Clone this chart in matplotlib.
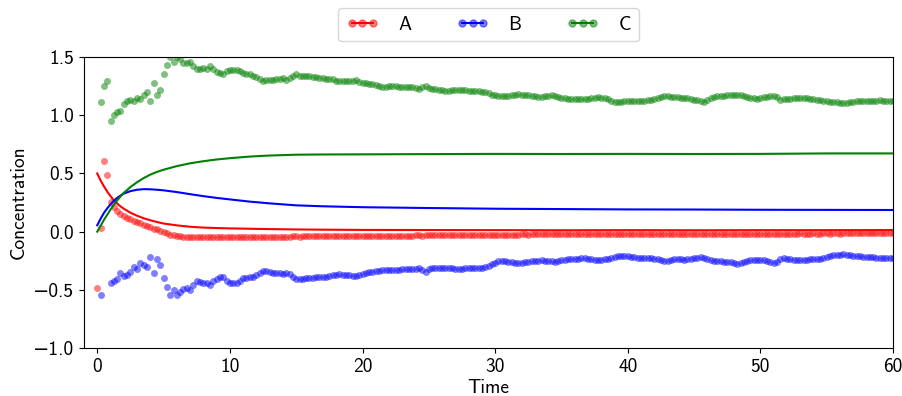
import numpy as np
import matplotlib
matplotlib.use('Agg')
import matplotlib.pyplot as plt
from matplotlib.lines import Line2D

plt.rcParams['font.family'] = ['cmss10', 'DejaVu Sans']
plt.rcParams['axes.unicode_minus'] = True
plt.rcParams['font.size'] = 14

# observed samples, one every 0.25 time units (20 per row)
t_obs = np.arange(241) * 0.25

A_obs = np.array("""
-0.48 0.03 0.61 0.49 0.257 0.214 0.18 0.151 0.134 0.117 0.105 0.094 0.082 0.071 0.059 0.048 0.037 0.025 0.02 0.008
-0.003 -0.015 -0.026 -0.032 -0.038 -0.041 -0.043 -0.044 -0.045 -0.045 -0.046 -0.046 -0.045 -0.046 -0.047 -0.046 -0.046 -0.045 -0.046 -0.046
-0.047 -0.046 -0.045 -0.045 -0.044 -0.044 -0.045 -0.044 -0.043 -0.043 -0.044 -0.043 -0.042 -0.043 -0.043 -0.044 -0.043 -0.042 -0.042 -0.041
-0.041 -0.042 -0.041 -0.04 -0.04 -0.041 -0.04 -0.039 -0.039 -0.04 -0.039 -0.038 -0.038 -0.039 -0.038 -0.037 -0.037 -0.038 -0.037 -0.036
-0.036 -0.037 -0.036 -0.035 -0.035 -0.036 -0.035 -0.034 -0.034 -0.035 -0.034 -0.034 -0.033 -0.033 -0.034 -0.033 -0.032 -0.032 -0.033 -0.032
-0.031 -0.031 -0.032 -0.031 -0.03 -0.03 -0.031 -0.03 -0.029 -0.029 -0.03 -0.029 -0.028 -0.028 -0.029 -0.028 -0.027 -0.027 -0.028 -0.027
-0.026 -0.026 -0.027 -0.026 -0.025 -0.025 -0.026 -0.025 -0.024 -0.024 -0.025 -0.024 -0.024 -0.023 -0.024 -0.024 -0.023 -0.023 -0.024 -0.023
-0.022 -0.022 -0.023 -0.022 -0.022 -0.021 -0.022 -0.022 -0.021 -0.021 -0.022 -0.021 -0.02 -0.021 -0.021 -0.02 -0.02 -0.021 -0.02 -0.02
-0.02 -0.021 -0.02 -0.02 -0.019 -0.02 -0.02 -0.019 -0.019 -0.02 -0.019 -0.019 -0.02 -0.019 -0.019 -0.018 -0.019 -0.019 -0.018 -0.018
-0.019 -0.018 -0.018 -0.019 -0.018 -0.018 -0.017 -0.018 -0.018 -0.017 -0.017 -0.018 -0.017 -0.017 -0.018 -0.017 -0.017 -0.016 -0.017 -0.017
-0.017 -0.016 -0.017 -0.017 -0.016 -0.016 -0.017 -0.016 -0.016 -0.017 -0.016 -0.016 -0.015 -0.016 -0.016 -0.016 -0.015 -0.016 -0.016 -0.015
-0.015 -0.016 -0.015 -0.015 -0.016 -0.015 -0.015 -0.014 -0.015 -0.015 -0.015 -0.014 -0.015 -0.015 -0.014 -0.014 -0.015 -0.014 -0.014 -0.014
-0.014
""".split(), dtype=float)

B_obs = np.array("""
nan -0.54 nan nan -0.439 -0.427 -0.404 -0.353 -0.381 -0.370 -0.347 -0.307 -0.318 -0.272 -0.284 -0.301 -0.215 -0.353 -0.238 -0.284
-0.399 -0.473 -0.542 -0.502 -0.547 -0.519 -0.490 -0.485 -0.502 -0.456 -0.427 -0.433 -0.439 -0.439 -0.456 -0.427 -0.404 -0.393 -0.387 -0.422
-0.439 -0.444 -0.439 -0.422 -0.399 -0.399 -0.393 -0.387 -0.376 -0.353 -0.336 -0.341 -0.347 -0.353 -0.358 -0.358 -0.364 -0.353 -0.364 -0.387
-0.404 -0.410 -0.404 -0.399 -0.399 -0.399 -0.393 -0.393 -0.387 -0.387 -0.381 -0.376 -0.370 -0.364 -0.370 -0.370 -0.376 -0.381 -0.381 -0.376
-0.364 -0.358 -0.35 -0.345 -0.34 -0.334 -0.33 -0.327 -0.33 -0.333 -0.33 -0.327 -0.325 -0.322 -0.321 -0.321 -0.319 -0.316 -0.33 -0.344
-0.322 -0.316 -0.316 -0.314 -0.312 -0.31 -0.31 -0.315 -0.32 -0.32 -0.317 -0.316 -0.316 -0.316 -0.316 -0.316 -0.313 -0.303 -0.293 -0.28
-0.266 -0.256 -0.253 -0.254 -0.257 -0.262 -0.268 -0.268 -0.265 -0.262 -0.259 -0.255 -0.251 -0.248 -0.247 -0.249 -0.251 -0.254 -0.257 -0.256
-0.247 -0.241 -0.237 -0.235 -0.233 -0.231 -0.23 -0.23 -0.232 -0.238 -0.241 -0.241 -0.24 -0.237 -0.232 -0.223 -0.215 -0.208 -0.207 -0.21
-0.212 -0.218 -0.221 -0.223 -0.225 -0.227 -0.229 -0.23 -0.232 -0.234 -0.24 -0.253 -0.255 -0.24 -0.235 -0.237 -0.239 -0.241 -0.238 -0.234
-0.23 -0.224 -0.218 -0.226 -0.235 -0.242 -0.249 -0.253 -0.255 -0.257 -0.258 -0.264 -0.27 -0.275 -0.268 -0.26 -0.253 -0.247 -0.241 -0.243
-0.245 -0.247 -0.254 -0.262 -0.27 -0.258 -0.238 -0.23 -0.235 -0.239 -0.241 -0.243 -0.245 -0.247 -0.243 -0.239 -0.235 -0.233 -0.231 -0.23
-0.22 -0.208 -0.201 -0.199 -0.197 -0.195 -0.197 -0.201 -0.205 -0.209 -0.212 -0.214 -0.216 -0.218 -0.22 -0.222 -0.224 -0.224 -0.224 -0.224
-0.224
""".split(), dtype=float)

C_obs = np.array("""
nan 1.11 1.25 1.29 0.95 1.00 1.03 1.04 1.10 1.12 1.13 1.12 1.15 1.14 1.17 1.20 1.12 1.28 1.17 1.22
1.35 1.43 1.50 1.46 1.50 1.48 1.45 1.45 1.46 1.42 1.40 1.40 1.41 1.40 1.42 1.40 1.37 1.36 1.35 1.38
1.39 1.39 1.39 1.38 1.36 1.35 1.35 1.34 1.33 1.31 1.29 1.30 1.30 1.305 1.31 1.315 1.32 1.30 1.32 1.34
1.35 1.34 1.34 1.335 1.335 1.33 1.325 1.32 1.32 1.315 1.31 1.31 1.295 1.29 1.29 1.29 1.29 1.295 1.30 1.285
1.28 1.275 1.27 1.265 1.26 1.25 1.245 1.245 1.25 1.25 1.25 1.245 1.245 1.245 1.24 1.24 1.235 1.228 1.245 1.255
1.235 1.228 1.222 1.218 1.216 1.212 1.211 1.215 1.217 1.215 1.214 1.213 1.211 1.21 1.208 1.205 1.203 1.197 1.19 1.178
1.17 1.166 1.165 1.165 1.167 1.173 1.178 1.18 1.178 1.174 1.17 1.166 1.164 1.16 1.159 1.162 1.167 1.174 1.165 1.158
1.152 1.147 1.142 1.139 1.138 1.137 1.137 1.137 1.14 1.147 1.151 1.153 1.152 1.146 1.138 1.125 1.117 1.114 1.113 1.118
1.122 1.12 1.12 1.122 1.123 1.126 1.129 1.132 1.138 1.145 1.155 1.168 1.168 1.158 1.154 1.153 1.152 1.151 1.149 1.142
1.135 1.128 1.12 1.117 1.135 1.148 1.155 1.161 1.165 1.168 1.17 1.171 1.173 1.174 1.17 1.164 1.159 1.152 1.146 1.142
1.15 1.155 1.16 1.164 1.165 1.155 1.132 1.136 1.14 1.142 1.144 1.146 1.147 1.148 1.145 1.141 1.137 1.133 1.129 1.125
1.121 1.117 1.113 1.111 1.109 1.108 1.109 1.113 1.117 1.121 1.125 1.124 1.123 1.122 1.124 1.126 1.128 1.126 1.124 1.122
1.122
""".split(), dtype=float)

# model curves
t_mod = [0, 0.25, 0.5, 0.75, 1, 1.25, 1.5, 1.75, 2, 2.5, 3, 3.5, 4, 4.5, 5, 6, 7, 8, 9, 10,
         11.5, 13, 15, 17, 20, 25, 30, 35, 40, 45, 50, 55, 60]
A_mod = [0.50, 0.44, 0.39, 0.345, 0.305, 0.27, 0.242, 0.218, 0.197, 0.163, 0.137, 0.115, 0.098,
         0.083, 0.07, 0.054, 0.042, 0.035, 0.031, 0.028, 0.025, 0.022, 0.019, 0.017, 0.015, 0.014,
         0.013, 0.012, 0.013, 0.012, 0.013, 0.013, 0.014]
B_mod = [0.055, 0.11, 0.16, 0.2, 0.235, 0.265, 0.29, 0.31, 0.327, 0.348, 0.36, 0.365, 0.364,
         0.36, 0.355, 0.34, 0.322, 0.305, 0.29, 0.277, 0.258, 0.243, 0.226, 0.218, 0.21, 0.203,
         0.197, 0.194, 0.191, 0.19, 0.188, 0.187, 0.186]
C_mod = [0.0, 0.05, 0.1, 0.145, 0.19, 0.23, 0.268, 0.302, 0.333, 0.383, 0.425, 0.46, 0.49,
         0.513, 0.532, 0.563, 0.587, 0.605, 0.62, 0.631, 0.645, 0.654, 0.661, 0.663, 0.664, 0.666,
         0.668, 0.667, 0.668, 0.667, 0.668, 0.672, 0.672]

names = ['A', 'B', 'C']
colors = ['r', 'b', 'g']

fig = plt.figure(figsize=(9.03, 3.96), dpi=100)
ax = fig.add_axes([0.093, 0.121, 0.896, 0.735])

handles = []
for obs, mod, c, n in zip([A_obs, B_obs, C_obs], [A_mod, B_mod, C_mod], colors, names):
    ax.plot(t_obs, obs, 'o', color=c, alpha=0.5, markersize=5, markeredgewidth=0)
    ax.plot(t_mod, mod, '-', color=c, lw=1.5)
    rgba = matplotlib.colors.to_rgba(c, 0.5)
    handles.append(Line2D([], [], color=c, lw=1.5, marker='o', markersize=5,
                          markerfacecolor=rgba, markeredgecolor=rgba, label=n))

ax.set_xlim(-1, 60)
ax.set_ylim(-1, 1.5)
ax.set_xticks([0, 10, 20, 30, 40, 50, 60])
ax.set_yticks([-1.0, -0.5, 0.0, 0.5, 1.0, 1.5])
ax.set_xlabel('Time', fontsize=14, labelpad=2)
ax.set_ylabel('Concentration', fontsize=14)
ax.tick_params(labelsize=14)

ax.legend(handles=handles, loc='lower center', bbox_to_anchor=(0.5, 1.02), ncol=3,
          numpoints=3, fontsize=14, handlelength=1.7, handletextpad=1.0, columnspacing=2.3)

fig.savefig('out.png', dpi=100)
